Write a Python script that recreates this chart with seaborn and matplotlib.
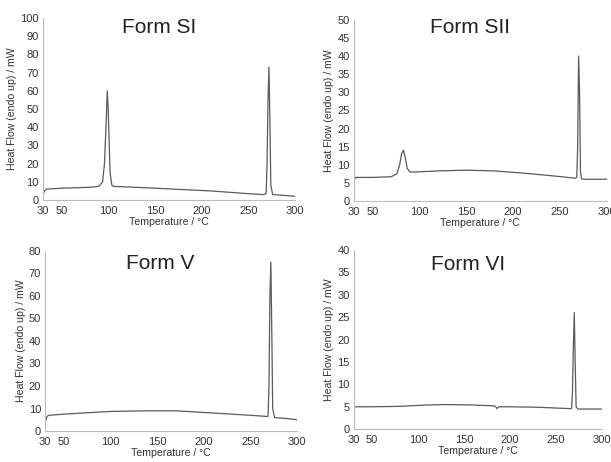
import numpy as np
import pandas as pd
import matplotlib
matplotlib.use("Agg")
import matplotlib.pyplot as plt
import seaborn as sns

# ------------------------------
# DSC curves
# ------------------------------
temp_si = [30, 32, 34, 50, 80, 90, 94, 96, 98, 99, 100, 102, 104, 106, 130, 170, 210, 250, 266, 269, 270, 271, 272, 273, 274, 276, 290, 300]
hf_si = [3, 5, 6, 6.5, 7, 7.5, 10, 20, 45, 60, 50, 15, 8, 7.5, 7, 6, 5, 3.5, 3, 3.5, 20, 55, 73, 45, 8, 3, 2.5, 2]

temp_sii = [30, 32, 50, 70, 76, 79, 81, 83, 85, 87, 90, 95, 120, 150, 180, 210, 240, 266, 268, 269, 270, 271, 272, 273, 275, 290, 300]
hf_sii = [5.5, 6.5, 6.5, 6.7, 7.5, 10, 13, 14, 12, 9, 8, 8, 8.3, 8.5, 8.3, 7.7, 7, 6.3, 6.5, 15, 40, 30, 8, 6.2, 6, 6, 6]

temp_v = [30, 32, 34, 50, 70, 100, 140, 170, 210, 250, 267, 269, 270, 271, 272, 273, 274, 276, 290, 300]
hf_v = [4, 6.5, 7, 7.5, 8, 8.7, 9, 9, 8, 7, 6.5, 6.5, 20, 60, 75, 45, 10, 6, 5.5, 5]

temp_vi = [30, 50, 80, 110, 130, 160, 183, 185, 186, 188, 200, 230, 264, 267, 268, 269, 270, 271, 272, 274, 290, 300]
hf_vi = [5, 5, 5.1, 5.4, 5.5, 5.4, 5.2, 4.9, 4.6, 5, 5, 4.9, 4.6, 4.6, 8, 18, 26, 15, 5, 4.5, 4.5, 4.5]

titles = ["Form SI", "Form SII", "Form V", "Form VI"]
y_max = [100, 50, 80, 40]
y_step = [10, 5, 10, 5]
x_ticks = [30, 50, 100, 150, 200, 250, 300]

curves = [(temp_si, hf_si), (temp_sii, hf_sii), (temp_v, hf_v), (temp_vi, hf_vi)]

# panel positions [left, bottom, width, height] and title placement
boxes = [
    [0.070, 0.567, 0.413, 0.394],
    [0.579, 0.565, 0.414, 0.392],
    [0.074, 0.067, 0.412, 0.390],
    [0.579, 0.071, 0.406, 0.388],
]
title_pos = [(0.46, 0.95), (0.46, 0.96), (0.456, 0.93), (0.46, 0.92)]

# ------------------------------
# Plot
# ------------------------------
sns.set_theme(style="white")
plt.rcParams["font.family"] = ["Liberation Sans", "DejaVu Sans"]

fig = plt.figure(figsize=(6.11, 4.62), dpi=100)

for i in range(4):
    ax = fig.add_axes(boxes[i])
    t, h = curves[i]
    df = pd.DataFrame({"Temperature": t, "Heat Flow": h})
    sns.lineplot(data=df, x="Temperature", y="Heat Flow", ax=ax,
                 color="#5a5a5a", linewidth=0.9)
    ax.set_xlim(30, 300)
    ax.set_ylim(0, y_max[i])
    ax.set_xticks(x_ticks)
    ax.set_yticks(np.arange(0, y_max[i] + 1, y_step[i]))
    ax.tick_params(axis="both", labelsize=8, length=0, colors="#333333")
    ax.tick_params(axis="x", pad=4)
    ax.tick_params(axis="y", pad=3)
    ax.set_xlabel("Temperature / °C", fontsize=7.6, color="#333333", labelpad=1)
    ax.set_ylabel("Heat Flow (endo up) / mW", fontsize=7.6, color="#333333", labelpad=2)
    for s in ["top", "right"]:
        ax.spines[s].set_visible(False)
    for s in ["left", "bottom"]:
        ax.spines[s].set_color("#bbbbbb")
        ax.spines[s].set_linewidth(0.8)
    ax.text(title_pos[i][0], title_pos[i][1], titles[i], transform=ax.transAxes,
            fontsize=15, ha="center", va="center", color="#222222")

fig.savefig("out.png", dpi=100)
